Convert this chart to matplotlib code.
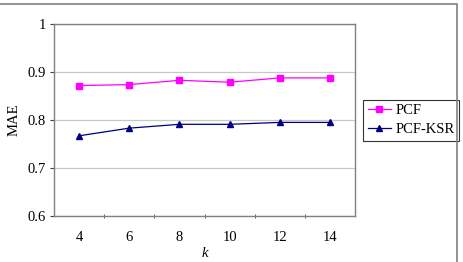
import matplotlib.pyplot as plt
from matplotlib.patches import Rectangle
import numpy as np

plt.rcParams['font.family'] = ['Liberation Serif', 'DejaVu Serif']

# data
k_labels = ['4', '6', '8', '10', '12', '14']
pcf = [0.872, 0.874, 0.883, 0.879, 0.888, 0.888]
pcf_ksr = [0.767, 0.783, 0.791, 0.791, 0.795, 0.795]

x = np.arange(len(k_labels))
fs = 10.5

fig = plt.figure(figsize=(4.64, 2.62), dpi=100)
ax = fig.add_axes([0.1164, 0.1767, 0.6487, 0.7305])

# grey frame round the whole chart
fig.patches.append(Rectangle((-0.01, -0.05), 0.995, 1.034, transform=fig.transFigure,
                             fill=False, edgecolor='#808080', linewidth=1.2))

ax.plot(x, pcf, color='#ff00ff', marker='s', markersize=4.5, linewidth=0.9, label='PCF')
ax.plot(x, pcf_ksr, color='#000080', marker='^', markersize=5, linewidth=0.9, label='PCF-KSR')

ax.set_xlim(-0.5, len(k_labels) - 0.5)
ax.set_ylim(0.6, 1.0)
ax.set_yticks([0.6, 0.7, 0.8, 0.9, 1.0])
ax.set_yticklabels(['0.6', '0.7', '0.8', '0.9', '1'])
ax.yaxis.grid(True, color='#c8c8c8', linewidth=0.9)
ax.set_axisbelow(True)

ax.set_xticks(x)
ax.set_xticklabels(k_labels)
ax.set_xticks(x[:-1] + 0.5, minor=True)
ax.tick_params(axis='x', which='major', length=0, pad=11, labelsize=fs)
ax.tick_params(axis='x', which='minor', length=3, direction='inout', color='#404040')
ax.tick_params(axis='y', length=3, color='#404040', labelsize=fs, pad=3)

for s in ax.spines.values():
    s.set_color('#808080')
    s.set_linewidth(1.0)

ax.set_xlabel('k', fontstyle='italic', fontsize=fs, labelpad=2)
ax.set_ylabel('MAE', fontsize=fs, labelpad=5)

leg = ax.legend(loc='center left', bbox_to_anchor=(1.027, 0.5), borderaxespad=0,
                fontsize=fs, frameon=True, fancybox=False, edgecolor='black',
                handlelength=1.6, borderpad=0.3, labelspacing=0.4, handletextpad=0.3)
leg.get_frame().set_linewidth(0.8)

fig.savefig('out.png', dpi=100)
